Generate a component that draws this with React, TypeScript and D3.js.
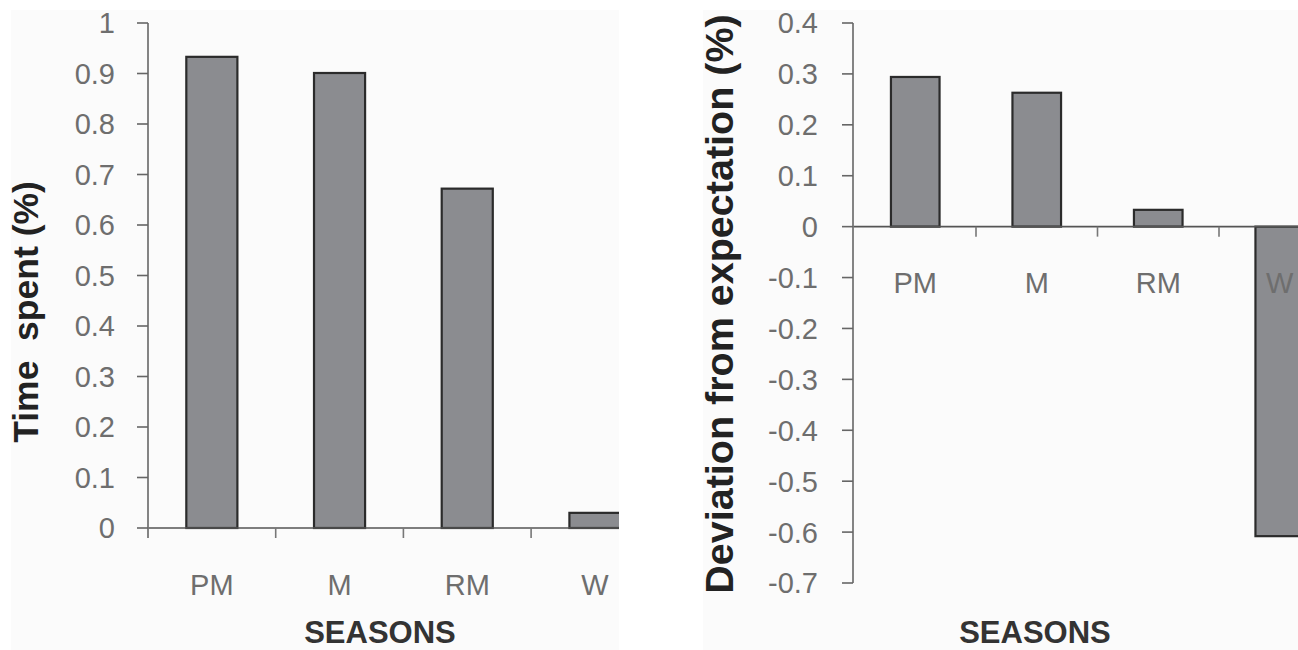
import React from "react";
import * as d3 from "d3";

const categories = ["PM", "M", "RM", "W"];
const timeSpent = [0.933, 0.901, 0.672, 0.03];
const deviation = [0.294, 0.263, 0.033, -0.608];
const leftTicks = [0, 0.1, 0.2, 0.3, 0.4, 0.5, 0.6, 0.7, 0.8, 0.9, 1];
const rightTicks = [0.4, 0.3, 0.2, 0.1, 0, -0.1, -0.2, -0.3, -0.4, -0.5, -0.6, -0.7];

const FONT = "'Liberation Sans', Arial, sans-serif";
const BAR_FILL = "#8b8c90";
const BAR_STROKE = "#2b2b2b";
const TICK_COLOR = "#6e6e6e";

type PanelProps = {
  values: number[];
  ticks: number[];
  yDomain: [number, number];
  yRange: [number, number];
  axisX: number;
  bandStart: number;
  bandStep: number;
  clipRight: number;
  bgX: number;
  labelRight: number;
  catLabelY: number;
  title: string;
  titleX: number;
  titleY: number;
  titleSize: number;
  xTitleX: number;
  id: string;
};

function Panel(p: PanelProps) {
  const y = d3.scaleLinear().domain(p.yDomain).range(p.yRange);
  const x = d3
    .scaleBand<string>()
    .domain(categories)
    .range([p.bandStart, p.bandStart + p.bandStep * categories.length])
    .padding(0);
  const bw = x.bandwidth();
  const y0 = y(0);
  const fmt = (v: number) => String(+v.toFixed(1));
  return (
    <g>
      <rect x={p.bgX} y={10} width={p.clipRight - p.bgX} height={640} fill="#fbfbfb" />
      <defs>
        <clipPath id={p.id}>
          <rect x={p.bgX} y={0} width={p.clipRight - p.bgX} height={650} />
        </clipPath>
      </defs>
      <g clipPath={`url(#${p.id})`}>
        {categories.map((c, i) => {
          const v = p.values[i];
          const top = Math.min(y(v), y0);
          const h = Math.abs(y(v) - y0);
          return (
            <rect
              key={c}
              x={(x(c) as number) + bw * 0.3}
              y={top}
              width={bw * 0.4}
              height={h}
              fill={BAR_FILL}
              stroke={BAR_STROKE}
              strokeWidth={2.2}
            />
          );
        })}
        <line x1={p.axisX} x2={p.clipRight} y1={y0} y2={y0} stroke="#555" strokeWidth={1.6} />
        {categories.map((c, i) => {
          const bx = p.bandStart + p.bandStep * i;
          return i === 0 ? null : (
            <line key={"t" + c} x1={bx} x2={bx} y1={y0} y2={y0 + 10} stroke="#777" strokeWidth={1.6} />
          );
        })}
        {categories.map((c) => (
          <text
            key={"l" + c}
            x={(x(c) as number) + bw / 2}
            y={p.catLabelY}
            textAnchor="middle"
            fontFamily={FONT}
            fontSize={29}
            fill={TICK_COLOR}
          >
            {c}
          </text>
        ))}
      </g>
      <line
        x1={p.axisX}
        x2={p.axisX}
        y1={y(p.yDomain[1])}
        y2={Math.max(y(p.yDomain[0]), y0 + 10)}
        stroke="#777"
        strokeWidth={1.8}
      />
      {p.ticks.map((t) => (
        <g key={"yt" + t}>
          <line x1={p.axisX - 11} x2={p.axisX} y1={y(t)} y2={y(t)} stroke="#666" strokeWidth={1.6} />
          <text
            x={p.labelRight}
            y={y(t)}
            dy="0.36em"
            textAnchor="end"
            fontFamily={FONT}
            fontSize={29}
            fill={TICK_COLOR}
          >
            {fmt(t)}
          </text>
        </g>
      ))}
      <text
        transform={`translate(${p.titleX},${p.titleY}) rotate(-90)`}
        textAnchor="middle"
        fontFamily={FONT}
        fontWeight="bold"
        fontSize={p.titleSize}
        fill="#222"
      >
        {p.title}
      </text>
      <text
        x={p.xTitleX}
        y={643}
        textAnchor="middle"
        fontFamily={FONT}
        fontWeight="bold"
        fontSize={31}
        fill="#333"
      >
        SEASONS
      </text>
    </g>
  );
}

export default function App() {
  return (
    <svg
      width={1298}
      height={650}
      style={{ position: "absolute", left: 0, top: 0, background: "#fff" }}
    >
      <Panel
        id="clipL"
        values={timeSpent}
        ticks={leftTicks}
        yDomain={[0, 1]}
        yRange={[528, 23]}
        axisX={148}
        bandStart={148}
        bandStep={127.7}
        clipRight={619}
        bgX={11}
        labelRight={115}
        catLabelY={595}
        title={"Time\u00a0 spent (%)"}
        titleX={38}
        titleY={312}
        titleSize={35.5}
        xTitleX={380}
      />
      <Panel
        id="clipR"
        values={deviation}
        ticks={rightTicks}
        yDomain={[-0.7, 0.4]}
        yRange={[583, 23]}
        axisX={853}
        bandStart={854.5}
        bandStep={121.5}
        clipRight={1298}
        bgX={703}
        labelRight={818}
        catLabelY={293}
        title="Deviation from expectation (%)"
        titleX={733}
        titleY={304}
        titleSize={39.5}
        xTitleX={1035}
      />
    </svg>
  );
}
